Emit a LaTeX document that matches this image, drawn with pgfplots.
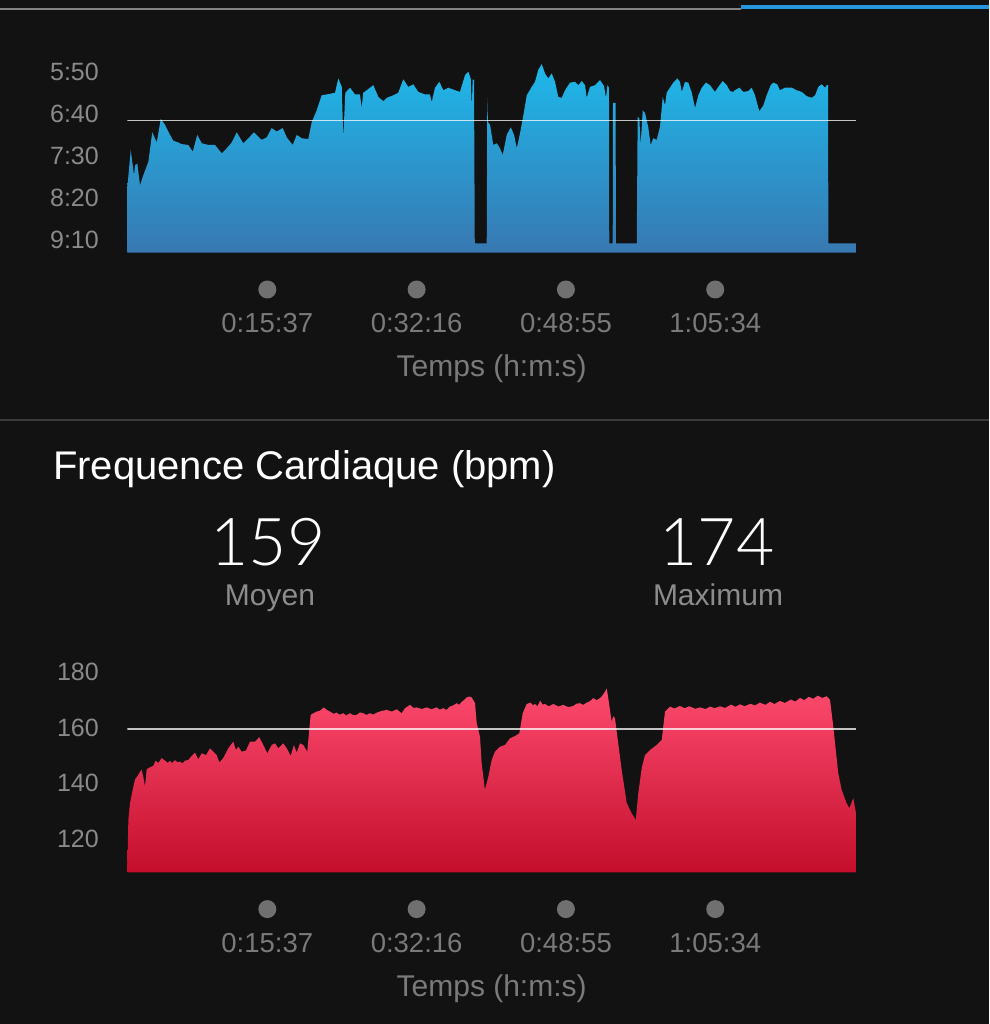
\documentclass[border=0pt]{standalone}
\usepackage{pgfplots}
\pgfplotsset{compat=1.18}
\usepackage{fontspec}
\setmainfont{Liberation Sans}
\newfontfamily\lightfont{Lato Light}
\definecolor{bg}{RGB}{18,18,18}
\definecolor{topgray}{RGB}{130,130,130}
\definecolor{topblue}{RGB}{38,150,222}
\definecolor{sepgray}{RGB}{58,58,58}
\definecolor{ylab}{RGB}{138,138,138}
\definecolor{xlab}{RGB}{122,122,122}
\definecolor{dotgray}{RGB}{112,112,112}
\definecolor{subgray}{RGB}{140,140,140}
\definecolor{paceTop}{RGB}{30,184,234}
\definecolor{paceBot}{RGB}{56,120,178}
\definecolor{hrTop}{RGB}{252,74,110}
\definecolor{hrBot}{RGB}{196,14,44}
\newcommand\fs[1]{\fontsize{#1}{#1}\selectfont}
\newcommand\tlab[1]{\shortstack{\tikz\fill[dotgray] (0pt,0pt) circle (9pt);\\[12pt]#1}}
\pgfplotsset{chartstyle/.style={
  scale only axis, width=728.7pt,
  axis line style={draw=none}, major tick length=0pt, tick style={draw=none},
  xmin=0, xmax=4876,
  xtick={937,1936,2935,3934},
  xticklabels={\tlab{0:15:37},\tlab{0:32:16},\tlab{0:48:55},\tlab{1:05:34}},
  xticklabel style={anchor=base, inner sep=0pt, yshift=-80pt, font=\fs{27.5}, text=xlab},
  yticklabel style={anchor=east, inner sep=0pt, xshift=-28.3pt, font=\fs{25}, text=ylab},
  xlabel={Temps (h:m:s)},
  x label style={at={(axis description cs:0.5,0)}, anchor=base, inner sep=0pt, yshift=-123.8pt, font=\fs{30}, text=xlab},
}}
\begin{document}
\begin{tikzpicture}
\fill[bg] (0pt,0pt) rectangle (989pt,1024pt);
\fill[topgray] (0pt,1014pt) rectangle (741pt,1016pt);
\fill[topblue] (741pt,1014.7pt) rectangle (989pt,1019.3pt);
\fill[sepgray] (0pt,603.3pt) rectangle (989pt,604.7pt);
\node[anchor=base west, text=white, font=\fs{40}, inner sep=0pt] at (53pt,544pt) {Frequence Cardiaque (bpm)};
\node[anchor=base, text=white, font=\lightfont\fs{66}, inner sep=0pt] at (268pt,458.5pt) {159};
\node[anchor=base, text=subgray, font=\fs{30}, inner sep=0pt] at (270pt,418.3pt) {Moyen};
\node[anchor=base, text=white, font=\lightfont\fs{66}, inner sep=0pt] at (717pt,458.5pt) {174};
\node[anchor=base, text=subgray, font=\fs{30}, inner sep=0pt] at (718pt,418.3pt) {Maximum};

% ---------------- Pace chart ----------------
\begin{axis}[chartstyle, at={(127.3pt,771.3pt)}, anchor=south west,
  height=197.8pt, ymin=330, ymax=565, y dir=reverse,
  ytick={350,400,450,500,550}, yticklabels={5:50,6:40,7:30,8:20,9:10}]
\addplot[draw=none, top color=paceTop, bottom color=paceBot] table {
0 565
0 488
23 443
45 473
52 461
67 459
85 485
107 473
141 457
167 422
197 434
224 406
252 413
286 425
308 432
341 434
364 436
408 437
438 445
468 425
498 435
542 437
587 437
632 447
665 441
699 434
732 422
776 435
810 429
848 422
899 431
933 428
966 417
1000 421
1040 417
1067 428
1107 437
1134 425
1167 429
1211 430
1234 410
1267 396
1301 378
1334 377
1390 375
1412 358
1435 368
1445 429
1459 375
1490 369
1524 377
1557 377
1568 393
1579 375
1602 372
1646 366
1680 380
1713 385
1736 381
1780 378
1813 375
1847 359
1880 368
1914 365
1947 374
1992 377
2025 377
2037 386
2059 369
2088 362
2115 372
2148 369
2193 372
2226 374
2260 354
2282 350
2298 358
2305 393
2311 359
2320 360
2325 554
2405 554
2409 381
2414 410
2427 413
2449 437
2472 435
2494 441
2512 449
2539 425
2566 416
2588 425
2606 441
2628 423
2650 402
2673 378
2706 368
2728 362
2750 348
2773 341
2795 352
2817 358
2840 352
2862 362
2884 380
2907 381
2929 372
2962 363
2996 362
3018 366
3041 361
3063 366
3074 381
3096 368
3130 366
3163 360
3190 367
3203 381
3213 366
3223 369
3225 554
3248 554
3250 387
3267 387
3270 554
3409 554
3415 404
3426 405
3435 437
3449 396
3464 399
3486 416
3502 437
3520 429
3542 431
3564 416
3583 380
3598 390
3609 375
3631 369
3653 363
3680 358
3698 362
3710 374
3732 362
3754 363
3777 375
3799 393
3821 378
3844 369
3872 363
3899 366
3932 374
3955 368
3984 361
4011 366
4033 373
4055 374
4066 372
4095 369
4122 374
4155 373
4178 369
4200 378
4229 397
4256 390
4278 378
4305 366
4323 363
4349 365
4367 372
4401 369
4446 369
4479 372
4513 374
4546 379
4580 381
4602 378
4624 368
4646 365
4669 369
4680 366
4689 366
4691 554
4876 554
4876 565
};
\addplot[white, opacity=0.75, line width=1.6pt] coordinates {(0,408) (4876,408)};
\end{axis}

% ---------------- Heart-rate chart ----------------
\begin{axis}[chartstyle, at={(127.3pt,151.7pt)}, anchor=south west,
  height=214.5pt, ymin=108, ymax=185,
  ytick={120,140,160,180}, yticklabels={120,140,160,180}]
\addplot[draw=none, top color=hrTop, bottom color=hrBot] table {
0 108
7 126.8
18 132.8
36 137.6
52 141.4
67 142.4
85 144.1
96 144.8
107 142.4
118 138.8
130 145.0
152 145.7
174 146.2
190 148.1
207 147.2
230 149.0
252 148.1
270 147.3
286 148.0
300 147.2
319 148.3
335 147.5
353 147.7
370 147.1
386 148.1
408 148.3
431 149.8
453 151.0
475 148.6
498 150.7
527 150.1
554 152.5
575 151.3
598 150.1
616 147.4
642 149.0
676 152.5
709 154.9
727 151.9
743 153.1
765 151.3
794 151.7
821 154.9
854 154.9
883 156.5
910 153.7
937 150.7
966 153.7
988 154.3
1011 152.5
1044 154.3
1067 152.5
1093 149.8
1115 153.7
1133 151.0
1156 154.3
1178 153.7
1204 151.3
1227 164.5
1245 165.1
1267 165.7
1289 166.0
1316 167.2
1334 166.3
1356 165.7
1380 164.9
1401 165.3
1420 164.6
1445 165.1
1465 164.3
1490 165.1
1512 164.4
1535 164.5
1557 165.4
1579 165.1
1600 164.5
1624 165.1
1645 164.6
1669 165.3
1700 165.9
1736 166.3
1770 165.7
1803 166.5
1836 165.1
1858 166.9
1892 168.1
1915 167.0
1936 167.2
1970 166.6
2003 167.2
2035 166.5
2070 167.2
2090 166.4
2114 166.9
2135 166.3
2159 167.5
2180 167.9
2204 168.7
2220 168.1
2238 169.2
2255 169.9
2271 170.8
2290 171.1
2304 170.8
2327 168.7
2338 161.5
2360 156.7
2371 147.2
2393 137.6
2416 142.4
2438 148.3
2460 151.3
2494 153.1
2527 153.7
2561 156.1
2594 156.9
2623 157.9
2646 165.1
2672 168.4
2699 168.9
2715 168.0
2728 168.4
2745 167.6
2762 169.6
2780 168.2
2795 168.4
2820 167.6
2851 168.4
2885 167.5
2917 168.1
2950 167.3
2984 167.7
3005 168.5
3029 168.7
3050 168.1
3074 168.9
3095 169.4
3118 170.5
3140 169.8
3163 170.5
3180 171.5
3196 172.8
3208 174
3218 170.6
3241 162.1
3252 164.0
3263 163.4
3279 156.7
3308 144.8
3342 132.8
3375 129.2
3402 126.8
3419 136.3
3442 145.4
3464 150.1
3498 151.9
3542 153.7
3576 155.5
3598 165.7
3631 167.5
3660 166.8
3698 167.7
3730 166.9
3760 167.6
3800 166.7
3832 167.2
3870 166.6
3900 167.5
3930 166.9
3966 167.6
4000 167.0
4040 168.2
4070 167.4
4099 168.3
4130 167.6
4170 168.5
4200 167.9
4233 168.9
4270 168.1
4300 169.2
4330 168.4
4367 169.5
4400 168.8
4440 170.0
4470 169.3
4501 170.6
4530 169.8
4560 171.0
4590 170.3
4620 171.4
4650 170.6
4680 171.2
4702 169.9
4724 160.3
4757 143.6
4780 137.6
4813 132.8
4831 131.0
4858 134.6
4876 129.2
4876 108
};
\addplot[white, opacity=0.75, line width=1.6pt] coordinates {(0,159.35) (4876,159.35)};
\end{axis}
\end{tikzpicture}
\end{document}
